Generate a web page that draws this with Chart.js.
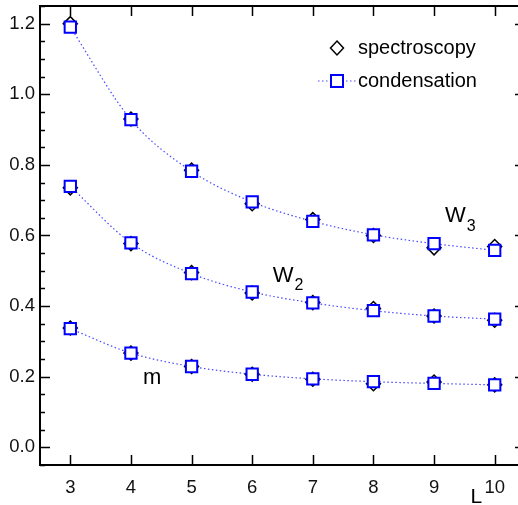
<!DOCTYPE html>
<html>
<head>
<meta charset="utf-8">
<script src="https://cdn.jsdelivr.net/npm/chart.js@4"></script>
<style>
  html, body { margin: 0; padding: 0; background: #fff; overflow: hidden; }
  #wrap { width: 530px; height: 505px; }
</style>
</head>
<body>
<div id="wrap"><canvas id="chart" width="530" height="505"></canvas></div>
<script>
const sizes = [3, 4, 5, 6, 7, 8, 9, 10];
const yTicks = [0.0, 0.2, 0.4, 0.6, 0.8, 1.0, 1.2];

// condensation (squares, dotted line)
const condW3 = [1.190, 0.928, 0.782, 0.695, 0.640, 0.602, 0.577, 0.558];
const condW2 = [0.739, 0.579, 0.492, 0.440, 0.409, 0.387, 0.372, 0.363];
const condM = [0.336, 0.267, 0.229, 0.207, 0.194, 0.186, 0.181, 0.177];

// spectroscopy (diamonds)
const specW3 = [1.200, 0.930, 0.785, 0.690, 0.645, 0.600, 0.565, 0.569];
const specW2 = [0.735, 0.577, 0.495, 0.437, 0.410, 0.393, 0.372, 0.360];
const specM = [0.338, 0.267, 0.229, 0.207, 0.193, 0.180, 0.185, 0.177];

const FONT = "'Liberation Sans', Arial, sans-serif";

function pts(vals) {
    return sizes.map((x, i) => ({ x: x, y: vals[i] }));
}

function specSet(vals) {
    return {
        label: "spectroscopy",
        data: pts(vals),
        showLine: false,
        pointStyle: "rectRot",
        pointRadius: 7,
        pointBorderWidth: 1.5,
        pointBorderColor: "#000",
        pointBackgroundColor: "#fff",
        order: 2,
    };
}

function condSet(vals) {
    return {
        label: "condensation",
        data: pts(vals),
        showLine: true,
        borderColor: "rgba(40, 40, 255, 0.85)",
        borderWidth: 1.2,
        borderDash: [1.5, 2.5],
        cubicInterpolationMode: "monotone",
        pointStyle: "rect",
        pointRadius: 8,
        pointBorderWidth: 2,
        pointBorderColor: "#0000ff",
        pointBackgroundColor: "#fff",
        order: 1,
    };
}

function noPad(s) {
    s.paddingTop = 0; s.paddingBottom = 0; s.paddingLeft = 0; s.paddingRight = 0;
}

// frame, inward ticks, legend and labels
const decor = {
    id: "decor",
    afterDatasetsDraw(chart) {
        const ctx = chart.ctx;
        const a = chart.chartArea;
        const xs = chart.scales.x;
        const ys = chart.scales.y;
        ctx.save();
        ctx.strokeStyle = "#000";
        ctx.lineWidth = 1.5;
        ctx.beginPath();
        sizes.forEach(v => {
            const px = Math.round(xs.getPixelForValue(v)) + 0.5;
            ctx.moveTo(px, a.bottom); ctx.lineTo(px, a.bottom - 10);
            ctx.moveTo(px, a.top); ctx.lineTo(px, a.top + 10);
        });
        for (let k = -1; k <= 25; k++) {
            const v = k * 0.05;
            if (v < ys.min || v > ys.max) continue;
            const len = (k % 4 === 0) ? 10 : 5;
            const py = Math.round(ys.getPixelForValue(v)) + 0.5;
            ctx.moveTo(a.left, py); ctx.lineTo(a.left + len, py);
            ctx.moveTo(a.right, py); ctx.lineTo(a.right - len, py);
        }
        ctx.stroke();
        ctx.lineWidth = 2;
        ctx.strokeRect(a.left, a.top, a.right - a.left, a.bottom - a.top);

        // legend
        ctx.fillStyle = "#000";
        ctx.font = "20px " + FONT;
        ctx.textBaseline = "middle";
        ctx.textAlign = "left";
        ctx.fillText("spectroscopy", 358, 48);
        ctx.fillText("condensation", 358, 81);
        ctx.beginPath();
        ctx.moveTo(337, 41); ctx.lineTo(343.5, 48); ctx.lineTo(337, 55); ctx.lineTo(330.5, 48); ctx.closePath();
        ctx.lineWidth = 1.5;
        ctx.stroke();
        ctx.strokeStyle = "rgba(40, 40, 255, 0.85)";
        ctx.lineWidth = 1.2;
        ctx.setLineDash([1.5, 2.5]);
        ctx.beginPath();
        ctx.moveTo(318, 81); ctx.lineTo(356, 81);
        ctx.stroke();
        ctx.setLineDash([]);
        ctx.strokeStyle = "#0000ff";
        ctx.lineWidth = 2;
        ctx.fillStyle = "#fff";
        ctx.fillRect(331, 75, 12, 12);
        ctx.strokeRect(331, 75, 12, 12);

        // curve labels
        ctx.fillStyle = "#000";
        ctx.textBaseline = "alphabetic";
        const lab = (txt, sub, lx, ly, sy) => {
            const px = xs.getPixelForValue(lx);
            const py = ys.getPixelForValue(ly);
            ctx.font = "22px " + FONT;
            ctx.fillText(txt, px, py);
            if (sub) {
                const w = ctx.measureText(txt).width;
                ctx.font = "16px " + FONT;
                ctx.fillText(sub, px + w + 1, ys.getPixelForValue(sy));
            }
        };
        lab("W", "3", 9.18, 0.637, 0.612);
        lab("W", "2", 6.34, 0.467, 0.446);
        lab("m", null, 4.20, 0.180, 0);

        ctx.font = "21px " + FONT;
        ctx.fillText("L", xs.getPixelForValue(9.6), a.bottom + 38);
        ctx.restore();
    },
};

new Chart(document.getElementById("chart").getContext("2d"), {
    type: "scatter",
    data: {
        datasets: [
            specSet(specW3), specSet(specW2), specSet(specM),
            condSet(condW3), condSet(condW2), condSet(condM),
        ],
    },
    options: {
        responsive: false,
        animation: false,
        devicePixelRatio: 1,
        layout: { autoPadding: false, padding: { left: 0, right: 5, top: 6, bottom: 0 } },
        plugins: { legend: { display: false }, tooltip: { enabled: false } },
        scales: {
            x: {
                type: "linear",
                min: 2.5,
                max: 10.5,
                afterBuildTicks: s => { s.ticks = sizes.map(v => ({ value: v })); },
                afterFit: s => { s.height = 40; noPad(s); },
                grid: { display: false, drawTicks: false },
                border: { display: false },
                ticks: {
                    color: "#111", padding: 12, maxRotation: 0, minRotation: 0, autoSkip: false,
                    font: { family: FONT, size: 18.5 }, callback: v => String(v),
                },
            },
            y: {
                min: -0.05,
                max: 1.25,
                afterBuildTicks: s => { s.ticks = yTicks.map(v => ({ value: v })); },
                afterFit: s => { s.width = 40; noPad(s); },
                grid: { display: false, drawTicks: false },
                border: { display: false },
                ticks: { color: "#111", padding: 5, font: { family: FONT, size: 18.5 }, callback: v => v.toFixed(1) },
            },
        },
    },
    plugins: [decor],
});
</script>
</body>
</html>
